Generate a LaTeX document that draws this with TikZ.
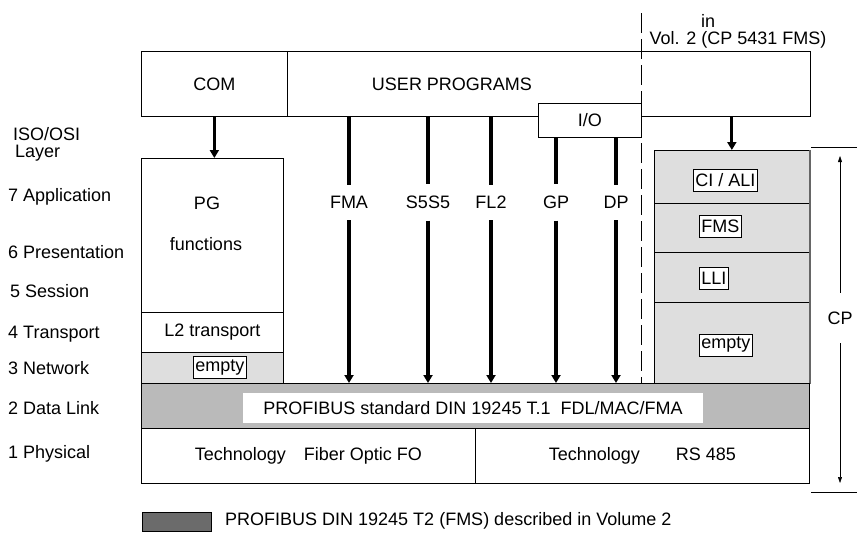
\documentclass[tikz,border=0pt]{standalone}
\usepackage{fontspec}
\setmainfont{Liberation Sans}
\usetikzlibrary{arrows.meta}
\tikzset{
  box/.style={draw, line width=0.7pt, inner sep=0pt, anchor=north west},
  grey box/.style={box, fill=black!13},
  tag/.style={draw, fill=white, line width=0.7pt, inner xsep=2pt, inner ysep=0pt, minimum height=22pt, anchor=west},
  layer/.style={anchor=base west, inner sep=0pt},
  bar/.style={line width=3.2pt},
  feed/.style={line width=3.2pt, -{Triangle[length=8pt,width=9pt]}},
  dim/.style={line width=0.5pt, -{Triangle[length=6pt,width=4pt]}, shorten >=9pt},
}
\begin{document}
\begin{tikzpicture}[x=1pt,y=-1pt,font=\fontsize{18}{20}\selectfont]
\useasboundingbox (0,0) rectangle (857,533);

\node[layer] (iso) at (13,140) {ISO/OSI};
\node[layer] (lay) at (15,157) {Layer};
\node[layer] (l7) at (8,201) {7 Application};
\node[layer] (l6) at (8,258) {6 Presentation};
\node[layer] (l5) at (10,297) {5 Session};
\node[layer] (l4) at (8,338) {4 Transport};
\node[layer] (l3) at (8,374) {3 Network};
\node[layer] (l2) at (8,414) {2 Data Link};
\node[layer] (l1) at (8,458) {1 Physical};

\node[layer] (in) at (701,27) {in};
\node (vol) at (738,40) {Vol. 2 (CP 5431 FMS)};

\node[box, minimum width=146pt, minimum height=65pt] (com) at (141,51) {COM};
\node[box, minimum width=523pt, minimum height=65pt] (user) at (287,51) {};
\node (usertxt) at (452,84) {USER PROGRAMS};
\node[box, fill=white, minimum width=103pt, minimum height=34pt] (io) at (538,103) {I/O};

\node[box, minimum width=142pt, minimum height=154pt] (pg) at (141,158) {};
\node (pgtxt) at (207,203) {PG};
\node (fntxt) at (206,244) {functions};
\node[box, minimum width=142pt, minimum height=40pt] (trans) at (141,312) {L2 transport};
\node[grey box, minimum width=142pt, minimum height=31pt] (net) at (141,352) {};
\node[tag] (netempty) at (193,367.5) {empty};

\node[grey box, minimum width=155pt, minimum height=53pt] (ci) at (654,150) {};
\node[tag] (citag) at (693,180) {CI / ALI};
\node[grey box, minimum width=155pt, minimum height=49pt] (fms) at (654,203) {};
\node[tag] (fmstag) at (699,226.5) {FMS};
\node[grey box, minimum width=155pt, minimum height=50pt] (lli) at (654,252) {};
\node[tag] (llitag) at (699,278.5) {LLI};
\node[grey box, minimum width=155pt, minimum height=81pt] (spare) at (654,302) {};
\node[tag] (sparetag) at (699,345) {empty};
\draw[line width=1.6pt, black!60] (ci.north east) -- (spare.south east);

\node[box, fill=black!27, minimum width=668pt, minimum height=45pt] (dl) at (141,383) {};
\node[fill=white, minimum width=460pt, minimum height=30pt, inner sep=0pt] (dltxt) at (473,408) {PROFIBUS standard DIN 19245 T.1\ \ FDL/MAC/FMA};
\node[box, minimum width=334pt, minimum height=55pt] (fo) at (141,428) {Technology\quad Fiber Optic FO};
\node[box, minimum width=334pt, minimum height=55pt] (rs) at (475,428) {Technology\qquad RS 485};

\draw[dash pattern=on 20pt off 6pt, line width=0.8pt] (641,13) -- (641,383);

\draw[feed] (com.south) -- (com.south |- pg.north);
\draw[feed] (ci.north |- user.south) -- (ci.north);

\foreach \x/\p/\src in {349/FMA/user, 428/S5S5/user, 491/FL2/user, 556/GP/io, 616/DP/io} {
  \node[inner sep=0pt] (\p) at (\x,202) {\p};
  \draw[bar, shorten >=11pt] (\p |- \src.south) -- (\p.north);
  \draw[feed, shorten <=12pt] (\p.south) -- (\p |- dl.north);
}

\coordinate (cptop) at (811,147);
\coordinate (cpbot) at (811,492);
\draw[line width=0.6pt] (cptop) -- ++(46,0);
\draw[line width=0.6pt] (cpbot) -- ++(46,0);
\node[inner sep=0pt, minimum height=50pt] (cp) at (840,318) {CP};
\draw[dim] (cp.north) -- (cp.north |- cptop);
\draw[dim] (cp.south) -- (cp.south |- cpbot);

\node[box, fill=black!58, minimum width=69pt, minimum height=19pt] (key) at (142,512) {};
\node[anchor=west, inner sep=0pt] (keytxt) at (225,521) {PROFIBUS DIN 19245 T2 (FMS) described in Volume 2};
\end{tikzpicture}
\end{document}
